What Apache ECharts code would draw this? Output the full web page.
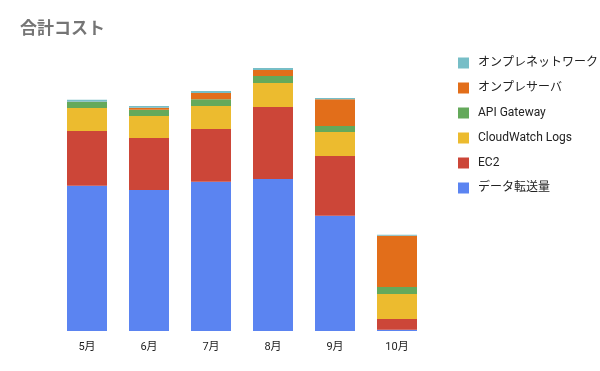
<!DOCTYPE html>
<html><head><meta charset="utf-8">
<script src="https://cdn.jsdelivr.net/npm/echarts@6/dist/echarts.min.js"></script>
<style>html,body{margin:0;padding:0;background:#fff}#c{width:600px;height:371px}</style>
</head><body><div id="c"></div>
<script>
const months = ['5月','6月','7月','8月','9月','10月'];
const dataTransfer = [145.3, 141, 149.3, 152, 115.3, 1.3];
const ec2 = [54.7, 52, 52.7, 72, 59.7, 10.7];
const cloudwatch = [23, 22, 23, 24, 24, 25];
const apiGateway = [6, 6.3, 6.7, 7, 6, 7];
const onpreServer = [0.3, 2, 6.3, 6, 26.7, 51.3];
const onpreNetwork = [2, 1.7, 2, 2, 1.3, 1];
const seriesNames = ['データ転送量','EC2','CloudWatch Logs','API Gateway','オンプレサーバ','オンプレネットワーク'];
const seriesData = [dataTransfer, ec2, cloudwatch, apiGateway, onpreServer, onpreNetwork];
const colors = ['#5b84f1','#cc4638','#ecbb2f','#64a95b','#e26e1a','#77bec7'];
const font = 'Roboto, "Noto Sans CJK JP", sans-serif';

const chart = echarts.init(document.getElementById('c'), null, {renderer:'canvas'});
chart.setOption({
  animation: false,
  color: colors,
  title: {text:'合計コスト', left: 20, top: 21, padding: 0,
    textStyle:{fontSize:17, fontWeight:'bold', color:'#757575', fontFamily: font}},
  legend: {
    orient:'vertical', left: 458, top: 57, padding: 0,
    itemWidth: 11, itemHeight: 11, itemGap: 13,
    icon: 'rect',
    data: seriesNames.slice().reverse(),
    textStyle:{fontSize:12, color:'#222', fontFamily: font, padding:[0,0,0,4]}
  },
  grid: {left: 56, right: 172, top: 41, bottom: 40, containLabel:false},
  xAxis: {type:'category', data: months,
    axisLine:{show:false}, axisTick:{show:false},
    axisLabel:{fontSize:11, color:'#222', fontFamily: font, margin: 11}},
  yAxis: {type:'value', min:0, max:290, show:false, splitLine:{show:false}},
  series: seriesNames.map((n,i)=>({
    name:n, type:'bar', stack:'total', barWidth:40, data: seriesData[i]
  }))
});
</script></body></html>
